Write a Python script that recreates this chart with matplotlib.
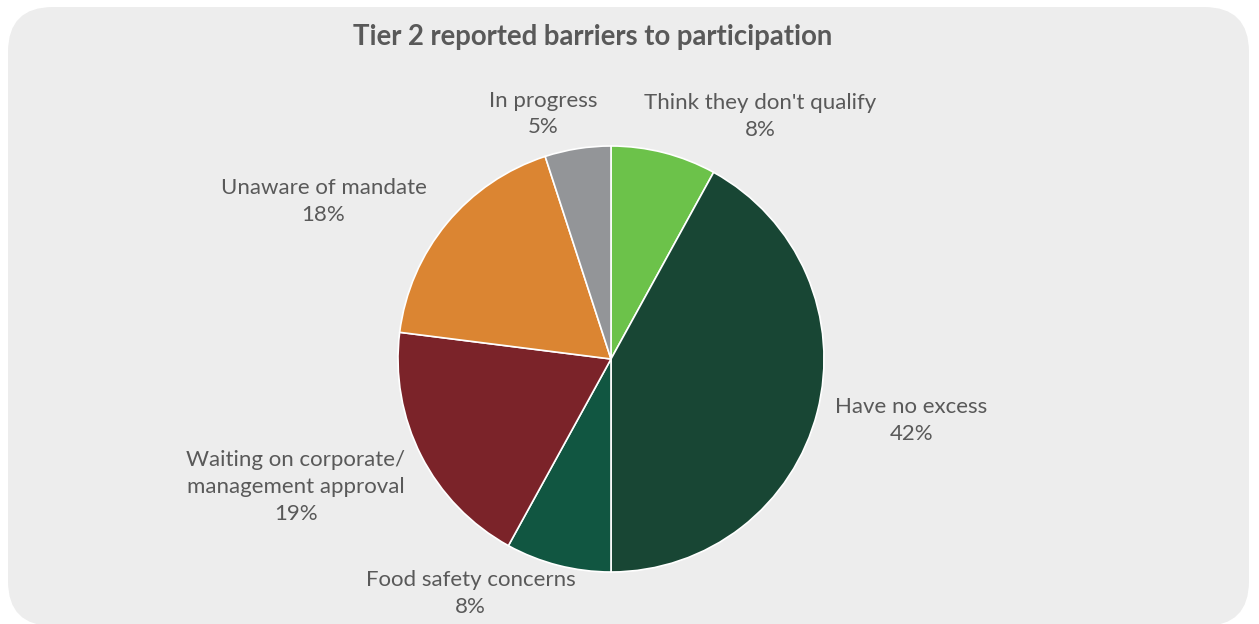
import matplotlib
matplotlib.use('Agg')
import matplotlib.pyplot as plt
from matplotlib.patches import FancyBboxPatch

plt.rcParams['font.family'] = ['Lato', 'DejaVu Sans']

# survey shares, clockwise from 12 o'clock
barriers = ["Think they don't qualify", 'Have no excess', 'Food safety concerns',
            'Waiting on corporate/\nmanagement approval', 'Unaware of mandate', 'In progress']
shares = [8, 42, 8, 19, 18, 5]
colors = ['#6CC24A', '#184634', '#115641', '#7B2329', '#DB8532', '#939598']

# where each label block sits, in pie-radius units
label_xy = [(0.70, 1.14), (1.41, -0.29), (-0.66, -1.10),
            (-1.48, -0.60), (-1.35, 0.74), (-0.32, 1.15)]

W, H = 1259, 624
fig = plt.figure(figsize=(W / 100, H / 100), dpi=100)
fig.patch.set_facecolor('white')

# rounded grey card behind everything
bg = fig.add_axes([0, 0, 1, 1])
bg.set_xlim(0, W)
bg.set_ylim(H, 0)
bg.axis('off')
bg.add_patch(FancyBboxPatch((8 + 45, 7 + 45), W - 2 - 16 - 90, H - 7 - 90 + 2,
                            boxstyle='round,pad=45', fc='#EDEDED', ec='none'))
bg.text(593, 37, 'Tier 2 reported barriers to participation', ha='center', va='center',
        fontsize=19.8, fontweight='bold', color='#595959')

cx, cy, r = 611, 359, 213
ax = fig.add_axes([(cx - r) / W, (H - cy - r) / H, 2 * r / W, 2 * r / H])
ax.pie(shares, colors=colors, startangle=90, counterclock=False, radius=1,
       wedgeprops=dict(edgecolor='white', linewidth=1.2))
ax.set_xlim(-1, 1)
ax.set_ylim(-1, 1)
ax.set_aspect('equal')

for name, val, (lx, ly) in zip(barriers, shares, label_xy):
    ax.text(lx, ly, f'{name}\n{val}%', ha='center', va='center', fontsize=16,
            color='#595959', linespacing=1.42, clip_on=False)

fig.savefig('out.png', dpi=100, facecolor='white')
